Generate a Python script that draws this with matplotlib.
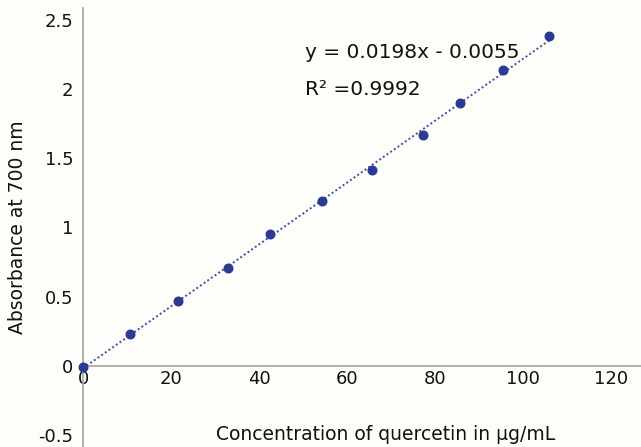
import numpy as np
from matplotlib import pyplot as plt
from matplotlib.ticker import FuncFormatter

# concentration (ug/mL) and absorbance
conc = [0, 10.7, 21.6, 33.0, 42.5, 54.3, 65.7, 77.3, 85.7, 95.5, 106.0]
absorb = [-0.01, 0.23, 0.47, 0.71, 0.95, 1.19, 1.42, 1.67, 1.90, 2.14, 2.39]

xticks = [0, 20, 40, 60, 80, 100, 120]
yticks = [-0.5, 0, 0.5, 1, 1.5, 2, 2.5]

eq_text = "y = 0.0198x - 0.0055"
r2_text = "R² =0.9992"

plt.rcParams['font.family'] = ['DejaVu Sans']

bg = '#fdfdfa'
txt = '#111111'
fig = plt.figure(figsize=(6.41, 4.47), dpi=100, facecolor=bg)
ax = fig.add_axes([83 / 641, 0, 1 - 83 / 641, 439 / 447], facecolor=bg)

# dotted linear trend line
k, b = np.polyfit(conc, absorb, 1)
xx = np.array([0, max(conc)])
ax.plot(xx, k * xx + b, linestyle=(0, (1, 1.3)), color='#3d4fa3', lw=1.4, zorder=2)
ax.plot(conc, absorb, 'o', color='#2b3a92', ms=6.2, zorder=3, clip_on=False)

ax.set_xlim(0, 126.8)
ax.set_ylim(-0.59, 2.59)
ax.set_xticks(xticks)
ax.set_yticks(yticks)
ax.yaxis.set_major_formatter(FuncFormatter(lambda v, p: f"{v:g}"))

ax.spines['top'].set_visible(False)
ax.spines['right'].set_visible(False)
ax.spines['bottom'].set_position(('data', 0))
for s in ['left', 'bottom']:
    ax.spines[s].set_color('#a9a9a9')
    ax.spines[s].set_linewidth(1.3)

ax.tick_params(axis='both', length=0, labelsize=13, colors=txt)
ax.tick_params(axis='x', pad=3)
ax.tick_params(axis='y', pad=7)

ax.set_ylabel("Absorbance at 700 nm", fontsize=13.5, color=txt)
ax.yaxis.set_label_coords(-0.1, 0.5)
ax.set_xlabel("Concentration of quercetin in µg/mL", fontsize=13.5, color=txt)
ax.xaxis.set_label_coords(0.543, 0.05)

ax.text(50.5, 2.27, eq_text, fontsize=14.5, ha='left', va='center', color=txt)
ax.text(50.5, 2.0, r2_text, fontsize=14.5, ha='left', va='center', color=txt)

plt.savefig('out.png', dpi=100, facecolor=bg)
